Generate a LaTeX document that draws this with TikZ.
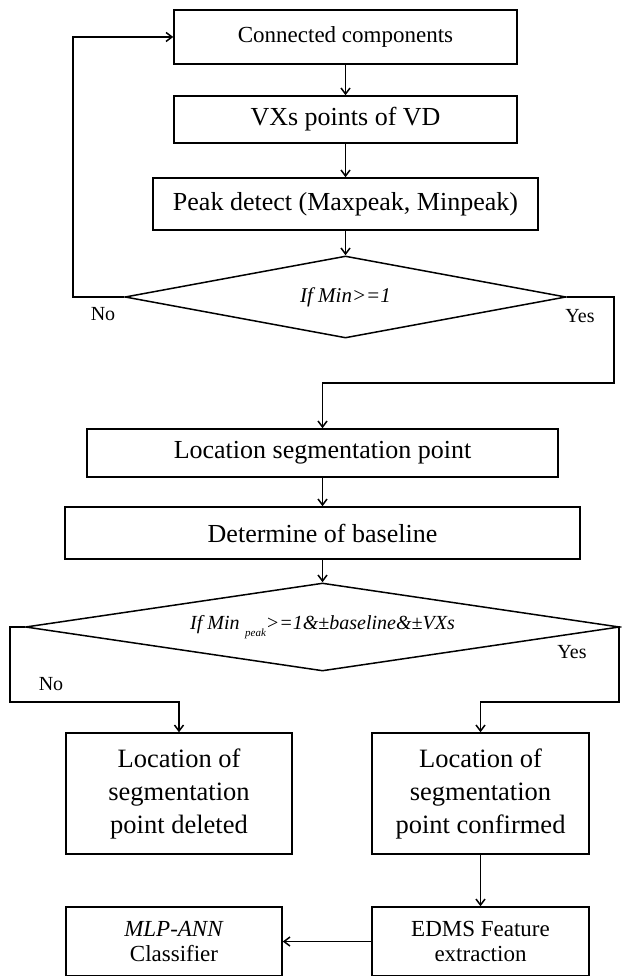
\documentclass[tikz,border=0pt]{standalone}
\usepackage{fontspec}
\setmainfont{Liberation Serif}
\usepackage{tikz}
\usetikzlibrary{shapes.geometric,arrows.meta}
\tikzstyle{process}=[rectangle,draw=black,line width=1.5pt,inner sep=0pt,align=center,font=\fontsize{26}{33}\selectfont]
\tikzstyle{decision}=[diamond,draw=black,line width=1.5pt,inner sep=0pt,aspect=6,font=\fontsize{21}{25}\selectfont\itshape]
\tikzstyle{flow}=[line width=1.5pt,-{Straight Barb[length=6pt,width=9pt]}]
\tikzstyle{answer}=[font=\fontsize{20}{24}\selectfont]

\begin{document}
\begin{tikzpicture}[x=1pt, y=1pt]
      \useasboundingbox (0,0) rectangle (621,-976);
      \node [process, minimum width=343pt, minimum height=54pt, font=\fontsize{23}{28}\selectfont] (conn) at (345.5,-37) {Connected components};
      \node [process, minimum width=343pt, minimum height=47pt] (vxs) [below of=conn, node distance=82.5pt] {VXs points of VD};
      \node [process, minimum width=385pt, minimum height=52pt] (peak) [below of=vxs, node distance=84.5pt] {Peak detect (Maxpeak, Minpeak)};
      \node [decision, minimum width=441pt, minimum height=82pt] (cond1) [below of=peak, node distance=93pt] {If Min>=1};
      \draw [flow] (conn) -- (vxs);
      \draw [flow] (vxs) -- (peak);
      \draw [flow] (peak) -- (cond1);

      \coordinate (noturn) at (73,-297);
      \draw [flow] (cond1.west) -- (noturn) |- (conn.west);
      \node [answer] (no1) at (103,-314) {No};

      \node [process, minimum width=471pt, minimum height=48pt] (locseg) at (322.5,-453) {Location segmentation point};
      \node [process, minimum width=515pt, minimum height=52pt] (baseline) [below of=locseg, node distance=80pt] {Determine of baseline};
      \node [decision, minimum width=594pt, minimum height=88pt, font=\fontsize{20}{24}\selectfont\itshape] (cond2) [below of=baseline, node distance=94pt] {If Min\raisebox{-7pt}{\fontsize{11}{11}\selectfont\ \ peak}>=1\&±baseline\&±VXs};
      \coordinate (yesturn) at (614,-383);
      \draw [flow] (cond1.east) -| (yesturn) -| (locseg.north);
      \node [answer] (yes1) at (580,-316) {Yes};
      \draw [flow] (locseg) -- (baseline);
      \draw [flow] (baseline) -- (cond2);

      \node [process, minimum width=226pt, minimum height=121pt, font=\fontsize{26.5}{33}\selectfont] (deleted) at (179,-793.5) {Location of\\segmentation\\point deleted};
      \node [process, minimum width=217pt, minimum height=121pt, font=\fontsize{26.5}{33}\selectfont] (confirmed) at (480.5,-793.5) {Location of\\segmentation\\point confirmed};
      \coordinate (noturn2) at (10,-702);
      \coordinate (yesturn2) at (619,-702);
      \draw [flow] (cond2.west) -| (noturn2) -| (deleted.north);
      \draw [flow] (cond2.east) -| (yesturn2) -| (confirmed.north);
      \node [answer] (no2) at (51,-684) {No};
      \node [answer] (yes2) at (572,-652) {Yes};

      \node [process, minimum width=217pt, minimum height=69pt, font=\fontsize{23}{25}\selectfont] (edms) [below of=confirmed, node distance=148pt] {EDMS Feature\\extraction};
      \node [process, minimum width=216pt, minimum height=69pt, font=\fontsize{23}{25}\selectfont] (mlp) [left of=edms, node distance=306.5pt] {\textit{MLP-ANN}\\Classifier};
      \draw [flow] (confirmed) -- (edms);
      \draw [flow] (edms) -- (mlp);
    \end{tikzpicture}
\end{document}
